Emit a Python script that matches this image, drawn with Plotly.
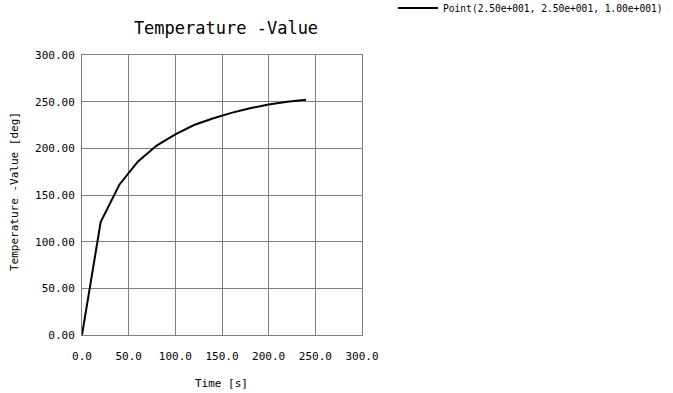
import plotly.graph_objects as go

time_s = [0, 20, 40, 60, 80, 100, 120, 140, 160, 180, 200, 220, 240]
temp_deg = [0, 121, 161, 186, 203, 215, 225, 232, 238, 243, 247, 250, 252]
series_name = "Point(2.50e+001, 2.50e+001, 1.00e+001)"
x_ticks = [0, 50, 100, 150, 200, 250, 300]
y_ticks = [0, 50, 100, 150, 200, 250, 300]

mono = "DejaVu Sans Mono, Liberation Mono, monospace"

# plot area in pixels: x 82..362, y 55..335 (280 x 280)
L, T, W, H = 82, 55, 280, 280
def px(x):
    return (x - L) / W
def py(y):
    return (T + H - y) / H

fig = go.Figure()
fig.add_trace(go.Scatter(x=time_s, y=temp_deg, mode="lines", name=series_name,
                         line=dict(color="black", width=2)))

fig.update_layout(
    width=673, height=393,
    margin=dict(l=L, r=673 - L - W, t=T, b=393 - T - H, autoexpand=False),
    paper_bgcolor="white", plot_bgcolor="white",
    title=dict(text="Temperature -Value", x=226 / 673, xanchor="center",
               y=1 - 28 / 393, yanchor="middle",
               font=dict(family=mono, size=17, color="black")),
    showlegend=True,
    legend=dict(x=px(393), y=py(8), xanchor="left", yanchor="middle",
                font=dict(family=mono, size=9.6, color="black"),
                bgcolor="rgba(0,0,0,0)", itemwidth=40),
    xaxis=dict(range=[0, 300], tickvals=x_ticks, tickformat=".1f", automargin=False,
               showgrid=True, gridcolor="#808080", gridwidth=1,
               showline=True, linecolor="#808080", mirror=True, zeroline=False,
               ticks="", ticklabelstandoff=11,
               tickfont=dict(family=mono, size=11, color="black")),
    yaxis=dict(range=[0, 300], tickvals=y_ticks, tickformat=".2f", automargin=False,
               showgrid=True, gridcolor="#808080", gridwidth=1,
               showline=True, linecolor="#808080", mirror=True, zeroline=False,
               ticks="", ticklabelstandoff=4,
               tickfont=dict(family=mono, size=11, color="black")),
    annotations=[
        dict(text="Time [s]", xref="paper", yref="paper", x=px(221), y=py(383),
             xanchor="center", yanchor="middle", showarrow=False,
             font=dict(family=mono, size=11, color="black")),
        dict(text="Temperature -Value [deg]", xref="paper", yref="paper",
             x=px(14), y=py(192), xanchor="center", yanchor="middle",
             textangle=-90, showarrow=False,
             font=dict(family=mono, size=11, color="black")),
    ],
)

fig.write_html("out.html", config={"displayModeBar": False},
               post_script="document.body.style.margin='0px';document.body.style.padding='0px';")
